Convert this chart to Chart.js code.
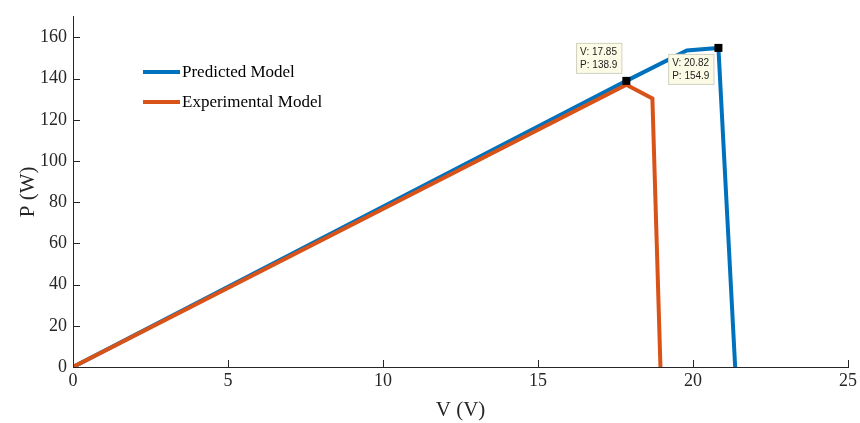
<!DOCTYPE html>
<html>
<head>
<meta charset="utf-8">
<script src="https://cdn.jsdelivr.net/npm/chart.js@4/dist/chart.umd.min.js"></script>
<style>
  html, body { margin: 0; padding: 0; background: #fff; }
  #wrap { width: 860px; height: 423px; }
</style>
</head>
<body>
<div id="wrap"><canvas id="myChart" width="860" height="423"></canvas></div>
<script>
// data
const predV = [0, 17.85, 19.8, 20.82, 21.36];
const predP = [0, 138.9, 153.6, 154.9, 0];
const expV = [0, 17.85, 18.69, 18.95];
const expP = [0, 137.0, 130.4, 0];
const xTicks = [0, 5, 10, 15, 20, 25];
const yTicks = [0, 20, 40, 60, 80, 100, 120, 140, 160];
const tips = [
  { v: 17.85, p: 138.9, dx: -5, dy: -8, side: 'above' },
  { v: 20.82, p: 154.9, dx: -5, dy: 6, side: 'below' }
];
const legendItems = ['Predicted Model', 'Experimental Model'];
const colors = ['#0072BD', '#D95319'];

const toPts = (xs, ys) => xs.map((x, i) => ({ x: x, y: ys[i] }));
const serif = '"Liberation Serif", "Times New Roman", serif';
const axisColor = '#262626';

const extras = {
  id: 'extras',
  afterDraw(chart) {
    const c = chart.ctx;
    const xs = chart.scales.x, ys = chart.scales.y;
    const a = chart.chartArea;
    c.save();
    // inward ticks
    c.strokeStyle = axisColor;
    c.lineWidth = 1;
    xTicks.forEach(t => {
      const px = Math.round(xs.getPixelForValue(t)) + 0.5;
      c.beginPath(); c.moveTo(px, a.bottom); c.lineTo(px, a.bottom - 7); c.stroke();
    });
    yTicks.forEach(t => {
      const py = Math.round(ys.getPixelForValue(t)) + 0.5;
      c.beginPath(); c.moveTo(a.left, py); c.lineTo(a.left + 7, py); c.stroke();
    });
    // legend
    c.font = '17px ' + serif;
    c.textBaseline = 'middle';
    c.fillStyle = '#000';
    legendItems.forEach((name, i) => {
      const y = 72 + i * 30;
      c.strokeStyle = colors[i];
      c.lineWidth = 4;
      c.beginPath(); c.moveTo(143, y); c.lineTo(180, y); c.stroke();
      c.fillText(name, 182, y + 1);
    });
    // datatips
    tips.forEach(t => {
      const mx = xs.getPixelForValue(t.v), my = ys.getPixelForValue(t.p);
      c.fillStyle = '#000';
      c.fillRect(mx - 4, my - 4, 8, 8);
      const lines = ['V: ' + t.v.toFixed(2), 'P: ' + t.p.toFixed(1)];
      c.font = '10px "Liberation Sans", Arial, sans-serif';
      const w = Math.max(...lines.map(l => c.measureText(l).width)) + 8;
      const h = 30;
      const bx = mx + t.dx - w;
      const by = t.side === 'above' ? my + t.dy - h : my + t.dy;
      c.fillStyle = '#FCFCE6';
      c.fillRect(bx, by, w, h);
      c.strokeStyle = '#D0D0C0';
      c.lineWidth = 1;
      c.strokeRect(bx + 0.5, by + 0.5, w, h);
      c.fillStyle = '#222';
      c.textBaseline = 'middle';
      c.textAlign = 'left';
      c.fillText(lines[0], bx + 4, by + 9);
      c.fillText(lines[1], bx + 4, by + 22);
    });
    c.restore();
  }
};

const ctx = document.getElementById('myChart').getContext('2d');
const myChart = new Chart(ctx, {
  type: 'scatter',
  data: {
    datasets: [{
      label: legendItems[0],
      data: toPts(predV, predP),
      showLine: true,
      borderColor: colors[0],
      backgroundColor: colors[0],
      borderWidth: 4,
      pointRadius: 0,
      tension: 0,
      order: 2
    }, {
      label: legendItems[1],
      data: toPts(expV, expP),
      showLine: true,
      borderColor: colors[1],
      backgroundColor: colors[1],
      borderWidth: 4,
      pointRadius: 0,
      tension: 0,
      order: 1
    }]
  },
  options: {
    responsive: false,
    animation: false,
    layout: { padding: { left: 0, top: 11, right: 10, bottom: 0 } },
    plugins: {
      legend: { display: false },
      tooltip: { enabled: false },
      title: { display: false }
    },
    scales: {
      x: {
        type: 'linear',
        min: 0, max: 25,
        afterBuildTicks: s => { s.ticks = xTicks.map(v => ({ value: v })); },
        afterFit: s => { s.height = 56; },
        grid: { display: false, drawTicks: false },
        border: { display: true, color: axisColor, width: 1 },
        ticks: { color: '#262626', font: { family: serif, size: 18 }, padding: 3 },
        title: { display: true, text: 'V (V)', color: '#262626', font: { family: serif, size: 21 }, padding: { top: 0, bottom: 0 } }
      },
      y: {
        type: 'linear',
        min: 0, max: 170,
        afterBuildTicks: s => { s.ticks = yTicks.map(v => ({ value: v })); },
        afterFit: s => { s.width = 73; },
        grid: { display: false, drawTicks: false },
        border: { display: true, color: axisColor, width: 1 },
        ticks: { color: '#262626', font: { family: serif, size: 18 }, padding: 6 },
        title: { display: true, text: 'P (W)', color: '#262626', font: { family: serif, size: 21 }, padding: { top: 16, bottom: 0 } }
      }
    }
  },
  plugins: [extras]
});
</script>
</body>
</html>
